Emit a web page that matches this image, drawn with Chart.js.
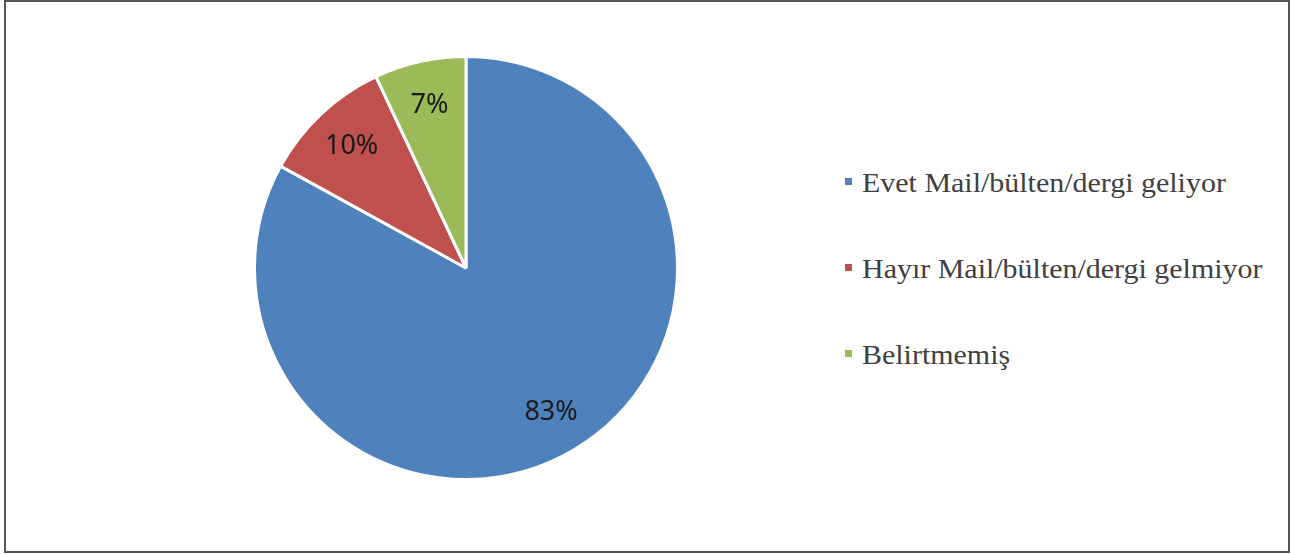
<!DOCTYPE html>
<html>
<head>
<meta charset="utf-8">
<script src="https://cdn.jsdelivr.net/npm/chart.js@4.4.0/dist/chart.umd.min.js"></script>
<style>
  html, body { margin: 0; padding: 0; background: #fff; }
  body { width: 1291px; height: 554px; position: relative; overflow: hidden; }
  #frame {
    position: absolute; left: 4px; top: 0px; width: 1282px; height: 549px;
    border: 2px solid #555;
  }
  #pieBox { position: absolute; left: 253px; top: 55px; width: 426px; height: 426px; }
  #legend { position: absolute; left: 845px; top: 0; }
  .item {
    position: absolute; left: 0; white-space: nowrap;
    font-family: "Liberation Serif", "Times New Roman", serif;
    font-size: 28px; color: #404040; line-height: 28px;
  }
  .item .box { position: absolute; left: 0; top: 9px; width: 7px; height: 7px; }
  .item .txt { position: absolute; left: 17px; top: 0; transform: scaleX(1.07); transform-origin: left center; }
</style>
</head>
<body>
<div id="frame"></div>
<div id="pieBox"><canvas id="pie"></canvas></div>
<div id="legend"></div>
<script>
// veriler
const labels = ['Evet Mail/bülten/dergi geliyor', 'Hayır Mail/bülten/dergi gelmiyor', 'Belirtmemiş'];
const values = [83, 10, 7];
const colors = ['#4F81BD', '#C0504D', '#9BBB59'];

// dilim etiketleri (yüzde)
const sliceLabels = {
    id: 'sliceLabels',
    afterDatasetsDraw(chart) {
        const ctx = chart.ctx;
        const meta = chart.getDatasetMeta(0);
        ctx.save();
        ctx.font = '27px "Noto Sans", "Open Sans", sans-serif';
        ctx.fillStyle = '#1a1a1a';
        ctx.textAlign = 'center';
        ctx.textBaseline = 'middle';
        meta.data.forEach((arc, i) => {
            const mid = (arc.startAngle + arc.endAngle) / 2;
            const r = arc.outerRadius * 0.79;
            ctx.fillText(values[i] + '%', arc.x + Math.cos(mid) * r, arc.y + Math.sin(mid) * r);
        });
        ctx.restore();
    }
};

new Chart(document.getElementById('pie'), {
    type: 'pie',
    data: {
        labels: labels,
        datasets: [{
            data: values,
            backgroundColor: colors,
            borderColor: '#ffffff',
            borderWidth: 3
        }]
    },
    options: {
        responsive: true,
        maintainAspectRatio: false,
        animation: false,
        layout: { padding: 0 },
        plugins: {
            legend: { display: false },
            tooltip: { enabled: false }
        }
    },
    plugins: [sliceLabels]
});

// sağdaki açıklama
const legendTops = [169, 255, 341];
const legend = document.getElementById('legend');
labels.forEach((text, i) => {
    const item = document.createElement('div');
    item.className = 'item';
    item.style.top = legendTops[i] + 'px';
    item.innerHTML = '<span class="box" style="background:' + colors[i] + '"></span><span class="txt"></span>';
    item.querySelector('.txt').textContent = text;
    legend.appendChild(item);
});
</script>
</body>
</html>
